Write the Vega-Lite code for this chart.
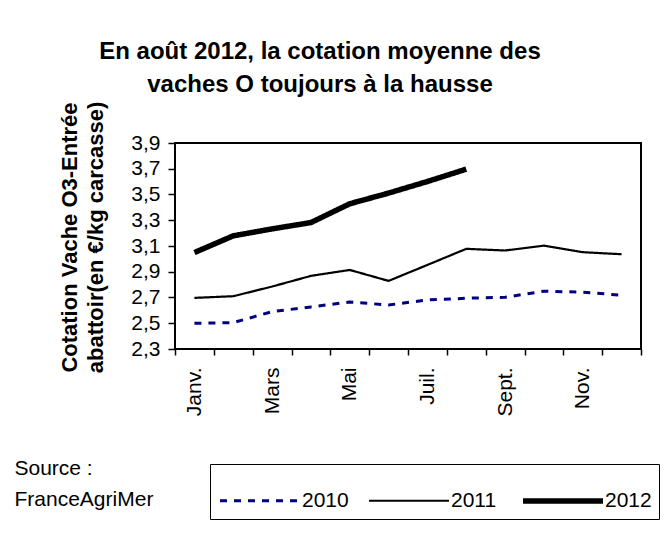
{
  "$schema": "https://vega.github.io/schema/vega-lite/v6.json",
  "autosize": "none",
  "width": 466,
  "height": 206,
  "padding": {"left": 175, "top": 143, "right": 28, "bottom": 184},
  "background": "white",
  "config": {
    "font": "Liberation Sans",
    "view": {"stroke": "black", "strokeWidth": 2},
    "axis": {"grid": false, "domain": false, "tickColor": "black", "labelColor": "black", "titleColor": "black"},
    "legend": {
      "orient": "none",
      "legendX": 35,
      "legendY": 321,
      "direction": "horizontal",
      "columns": 3,
      "columnPadding": 15,
      "padding": 7,
      "strokeColor": "black",
      "strokeWidth": 1,
      "symbolType": "M-1,0H1.963",
      "symbolSize": 2916,
      "labelOffset": 25,
      "labelFontSize": 21,
      "labelColor": "black",
      "labelFont": "Liberation Sans",
      "labelBaseline": "middle"
    }
  },
  "title": {
    "text": ["En août 2012, la cotation moyenne des", "vaches O toujours à la hausse"],
    "fontSize": 24,
    "fontWeight": "bold",
    "font": "Liberation Sans",
    "color": "black",
    "lineHeight": 33,
    "anchor": "middle",
    "frame": "group",
    "dx": -88,
    "offset": 4
  },
  "data": {
    "values": [
      {"month": "Janv.", "year": "2010", "value": 2.50},
      {"month": "Févr.", "year": "2010", "value": 2.505},
      {"month": "Mars", "year": "2010", "value": 2.59},
      {"month": "Avr.", "year": "2010", "value": 2.627},
      {"month": "Mai", "year": "2010", "value": 2.665},
      {"month": "Juin", "year": "2010", "value": 2.642},
      {"month": "Juil.", "year": "2010", "value": 2.681},
      {"month": "Août", "year": "2010", "value": 2.694},
      {"month": "Sept.", "year": "2010", "value": 2.702},
      {"month": "Oct.", "year": "2010", "value": 2.749},
      {"month": "Nov.", "year": "2010", "value": 2.741},
      {"month": "Déc.", "year": "2010", "value": 2.718},
      {"month": "Janv.", "year": "2011", "value": 2.697},
      {"month": "Févr.", "year": "2011", "value": 2.71},
      {"month": "Mars", "year": "2011", "value": 2.785},
      {"month": "Avr.", "year": "2011", "value": 2.868},
      {"month": "Mai", "year": "2011", "value": 2.914},
      {"month": "Juin", "year": "2011", "value": 2.829},
      {"month": "Juil.", "year": "2011", "value": 2.953},
      {"month": "Août", "year": "2011", "value": 3.078},
      {"month": "Sept.", "year": "2011", "value": 3.065},
      {"month": "Oct.", "year": "2011", "value": 3.103},
      {"month": "Nov.", "year": "2011", "value": 3.052},
      {"month": "Déc.", "year": "2011", "value": 3.036},
      {"month": "Janv.", "year": "2012", "value": 3.049},
      {"month": "Févr.", "year": "2012", "value": 3.179},
      {"month": "Mars", "year": "2012", "value": 3.233},
      {"month": "Avr.", "year": "2012", "value": 3.282},
      {"month": "Mai", "year": "2012", "value": 3.428},
      {"month": "Juin", "year": "2012", "value": 3.511},
      {"month": "Juil.", "year": "2012", "value": 3.601},
      {"month": "Août", "year": "2012", "value": 3.697}
    ]
  },
  "mark": {"type": "line", "strokeCap": "butt", "strokeJoin": "round"},
  "encoding": {
    "x": {
      "field": "month",
      "type": "ordinal",
      "sort": ["Janv.", "Févr.", "Mars", "Avr.", "Mai", "Juin", "Juil.", "Août", "Sept.", "Oct.", "Nov.", "Déc."],
      "scale": {"paddingInner": 0, "paddingOuter": 0},
      "axis": {
        "tickBand": "extent",
        "tickSize": 6,
        "tickWidth": 1.5,
        "labelAngle": -90,
        "labelAlign": "right",
        "labelBaseline": "middle",
        "labelPadding": 12,
        "labelFontSize": 21,
        "labelExpr": "indexof(['Janv.','Mars','Mai','Juil.','Sept.','Nov.'], datum.value) >= 0 ? datum.value : ''",
        "title": ["Source :", "FranceAgriMer"],
        "titleFontSize": 21,
        "titleFontWeight": "normal",
        "titleAlign": "left",
        "titleAnchor": "start",
        "titleBaseline": "alphabetic",
        "titleLineHeight": 31,
        "titleX": -161,
        "titleY": 125
      }
    },
    "y": {
      "field": "value",
      "type": "quantitative",
      "scale": {"domain": [2.3, 3.9], "nice": false, "zero": false},
      "axis": {
        "values": [2.3, 2.5, 2.7, 2.9, 3.1, 3.3, 3.5, 3.7, 3.9],
        "labelExpr": "replace(format(datum.value, '.1f'), '.', ',')",
        "tickSize": 7,
        "tickWidth": 1.5,
        "labelPadding": 8,
        "labelFontSize": 21,
        "title": ["Cotation Vache O3-Entrée", "abattoir(en €/kg carcasse)"],
        "titleFontSize": 22,
        "titleFontWeight": "bold",
        "titleLineHeight": 26,
        "titleX": -94,
        "titleY": 94
      }
    },
    "color": {
      "field": "year",
      "type": "nominal",
      "scale": {"domain": ["2010", "2011", "2012"], "range": ["#000080", "black", "black"]},
      "legend": {"title": null}
    },
    "strokeDash": {
      "field": "year",
      "type": "nominal",
      "scale": {"domain": ["2010", "2011", "2012"], "range": [[7, 7], [1, 0], [1, 0]]},
      "legend": {"title": null}
    },
    "strokeWidth": {
      "field": "year",
      "type": "nominal",
      "scale": {"type": "ordinal", "domain": ["2010", "2011", "2012"], "range": [3, 2.2, 5.5]},
      "legend": {"title": null}
    }
  }
}
